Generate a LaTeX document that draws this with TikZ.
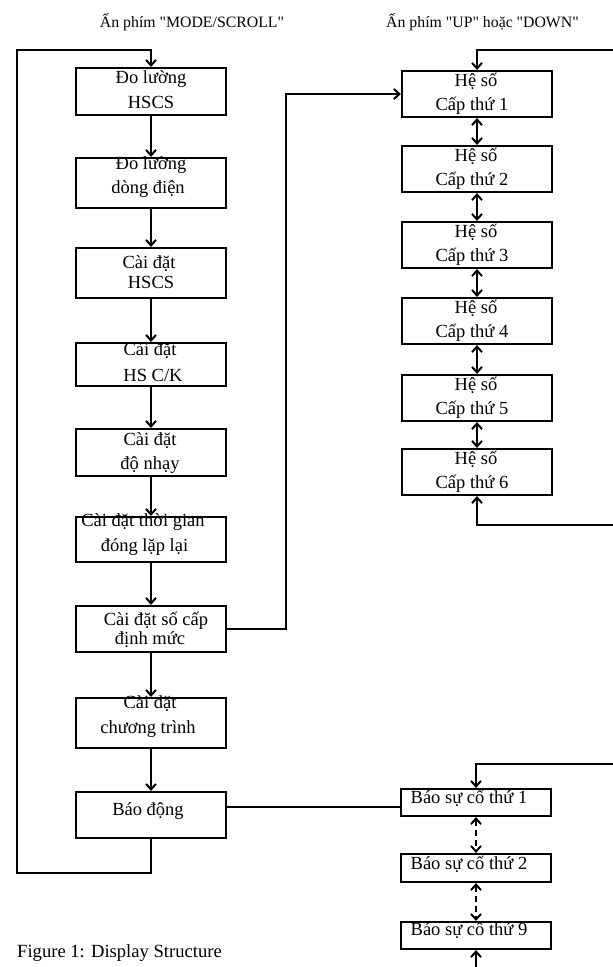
\documentclass[tikz,border=0pt]{standalone}
\usepackage{fontspec}
\setmainfont{Liberation Serif}
\newfontfamily\hdrfont{Liberation Serif}[Ligatures=TeXOff]
\usetikzlibrary{arrows.meta,calc}
\begin{document}
\begin{tikzpicture}[x=1pt,y=-1pt,
  box/.style={draw,line width=2.2pt,minimum width=150pt,inner sep=0pt,rectangle},
  ln/.style={anchor=base,inner sep=0pt,font=\fontsize{18.5}{22}\selectfont},
  hdr/.style={anchor=base,inner sep=0pt,font=\hdrfont\fontsize{15.8}{19}\selectfont},
  conn/.style={line width=2pt},
  tip/.style={-{Straight Barb[length=5.5pt,width=10pt]}},
  both/.style={{Straight Barb[length=5.5pt,width=10pt]}-{Straight Barb[length=5.5pt,width=10pt]}}
]
\useasboundingbox (0,0) rectangle (613,967);

% headers
\node[hdr] (h1) at (192,27) {Ấn phím "MODE/SCROLL"};
\node[hdr] (h2) at (482.5,27) {Ấn phím "UP" hoặc "DOWN"};
\node[anchor=base west,inner sep=0pt,font=\fontsize{18.6}{22}\selectfont] (cap) at (17,957) {Figure 1: Display Structure};

% left column texts
\node[ln] (L1a) at (151,83) {Đo lường};
\node[ln] (L1b) at (151,108) {HSCS};
\node[ln] (L2a) at (151,169) {Đo lường};
\node[ln] (L2b) at (148,193) {dòng điện};
\node[ln] (L3a) at (149,268) {Cài đặt};
\node[ln] (L3b) at (151,288) {HSCS};
\node[ln] (L4a) at (150,355) {Cài đặt};
\node[ln] (L4b) at (153,381) {HS C/K};
\node[ln] (L5a) at (150,445) {Cài đặt};
\node[ln] (L5b) at (150,469) {độ nhạy};
\node[ln] (L6a) at (143,526) {Cài đặt thời gian};
\node[ln] (L6b) at (144.5,551) {đóng lặp lại};
\node[ln] (L7a) at (156,625) {Cài đặt số cấp};
\node[ln] (L7b) at (150,644) {định mức};
\node[ln] (L8a) at (150,708) {Cài đặt};
\node[ln] (L8b) at (148,733) {chương trình};
\node[ln] (L9a) at (148,815) {Báo động};

% left column boxes
\node[box,minimum height=47pt] (L1) at (151,91.5) {};
\node[box,minimum height=50pt] (L2) at (151,183) {};
\node[box,minimum height=50pt] (L3) at (151,273) {};
\node[box,minimum height=43pt] (L4) at (151,364.5) {};
\node[box,minimum height=47pt] (L5) at (151,452.5) {};
\node[box,minimum height=45pt] (L6) at (151,539.5) {};
\node[box,minimum height=46pt] (L7) at (151,629) {};
\node[box,minimum height=50pt] (L8) at (151,723) {};
\node[box,minimum height=46pt] (L9) at (151,815) {};

% right column (He so)
\foreach \i/\t in {1/71,2/146,3/222,4/298,5/375,6/449}{
  \node[ln] (H\i a) at (476,\t+15) {Hệ số};
  \node[ln] (H\i b) at (472,\t+39) {Cấp thứ \i};
  \node[box,minimum height=46pt] (H\i) at (477,\t+23) {};
}

% right column (Bao su co)
\node[ln] (B1a) at (469,803) {Báo sự cố thứ 1};
\node[ln] (B2a) at (469,869) {Báo sự cố thứ 2};
\node[ln] (B3a) at (469,935) {Báo sự cố thứ 9};
\node[box,minimum height=27pt] (B1) at (476,802.5) {};
\node[box,minimum height=28pt] (B2) at (476,868) {};
\node[box,minimum height=27pt] (B3) at (476,935.5) {};

% left chain
\foreach \a/\b in {L1/L2,L2/L3,L3/L4,L4/L5,L5/L6,L6/L7,L7/L8,L8/L9}
  \draw[conn,tip] (\a.south) -- (\b.north);

% left loop
\coordinate (lb) at (17,873);
\coordinate (lt) at (17,50);
\draw[conn,tip] (L9.south) -- (L9.south |- lb) -- (lb) -- (lt) -- (L1.north |- lt) -- (L1.north);

% link to He so 1
\coordinate (rx) at (286,0);
\draw[conn,tip] (L7.east) -- (L7.east -| rx) -- (rx |- H1.west) -- (H1.west);

% He so chain
\foreach \a/\b in {H1/H2,H2/H3,H3/H4,H4/H5,H5/H6}
  \draw[conn,both] (\a.south) -- (\b.north);

% He so loop
\coordinate (hb) at (616,525);
\coordinate (ht) at (616,50);
\draw[conn,both] (H6.south) -- (H6.south |- hb) -- (hb) -- (ht) -- (H1.north |- ht) -- (H1.north);

% Bao dong link
\coordinate (bl) at (0,807);
\draw[conn] (L9.east |- bl) -- (B1.west |- bl);

% Bao su co chain (dashed)
\draw[conn,both,dash pattern=on 6pt off 4pt] (B1.south) -- (B2.north);
\draw[conn,both,dash pattern=on 6pt off 4pt] (B2.south) -- (B3.north);

% Bao su co loop
\coordinate (bb) at (616,976);
\coordinate (bt) at (616,764);
\draw[conn,both] (B3.south) -- (B3.south |- bb) -- (bb) -- (bt) -- (B1.north |- bt) -- (B1.north);
\end{tikzpicture}
\end{document}
